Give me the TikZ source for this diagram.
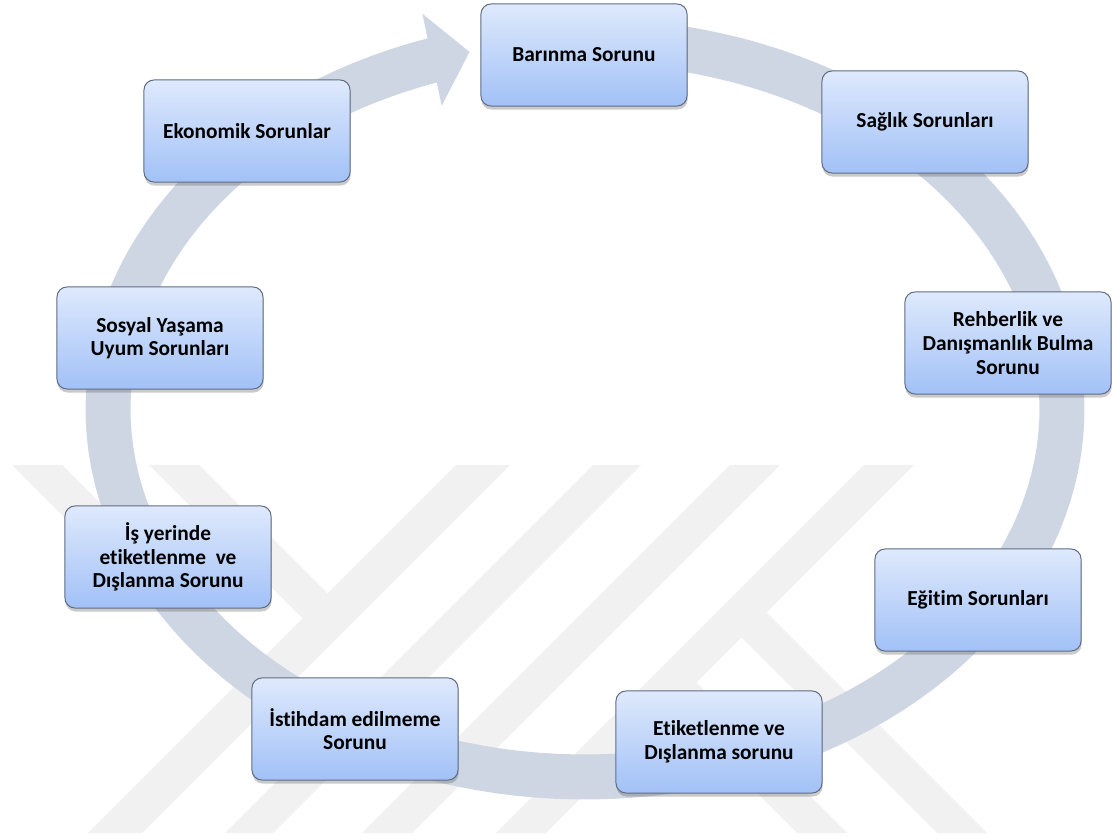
\documentclass[tikz,border=0pt]{standalone}
\usepackage{fontspec}
\setmainfont{Carlito}[Ligatures=NoCommon]
\usepackage{tikz}
\usetikzlibrary{
    arrows.meta, positioning, shadows
}
\definecolor{colRing}{RGB}{207, 214, 227}
\definecolor{colTop}{RGB}{222, 233, 252}
\definecolor{colBottom}{RGB}{162, 193, 247}
\definecolor{colEdge}{RGB}{96, 108, 128}
\definecolor{colMark}{RGB}{241, 241, 241}

\begin{document}
\begin{tikzpicture}[x=0.025cm, y=-0.025cm,
    probbox/.style={draw=colEdge, line width=0.7pt, rounded corners=0.25cm,
        top color=colTop, bottom color=colBottom,
        minimum width=5.15cm, minimum height=2.55cm, inner sep=2pt, align=center,
        font=\fontsize{15.2}{16.8}\selectfont\bfseries,
        drop shadow={shadow xshift=0.4pt, shadow yshift=-2.5pt, opacity=0.35, fill=black!60}},
    wmark/.style={fill=colMark, draw=none}]
    \useasboundingbox (0,0) rectangle (1112,839);

    % --- Watermark (background) ---
    \fill[wmark] (12,465) -- (62,465) -- (259,662) -- (234,687) -- cycle;
    \fill[wmark] (149,465) -- (199,465) -- (327.5,593.5) -- (302.5,618.5) -- cycle;
    \fill[wmark] (456,465) -- (510,465) -- (142,833) -- (88,833) -- cycle;
    \fill[wmark] (593,465) -- (641,465) -- (273,833) -- (225,833) -- cycle;
    \fill[wmark] (730,465) -- (780,465) -- (412,833) -- (362,833) -- cycle;
    \fill[wmark] (864,465) -- (914,465) -- (546,833) -- (496,833) -- cycle;
    \fill[wmark] (766.5,612.5) -- (987,833) -- (937,833) -- (741.5,637.5) -- cycle;
    \fill[wmark] (696.5,682.5) -- (847,833) -- (797,833) -- (671.5,707.5) -- cycle;

    % --- Cycle ring with arrow head ---
    \draw[colRing, line width=1.125cm, -{Triangle[width=2.3cm, length=0.96cm]}]
        plot[domain=-85:256, samples=150] ({585+477*cos(\x)}, {409+368*sin(\x)});

    % --- Problem boxes ---
    \node[probbox] (barinma) at (584,55) {Barınma Sorunu};
    \node[probbox] (saglik) at (925,122) {Sağlık Sorunları};
    \node[probbox] (rehber) at (1008,343) {Rehberlik ve\\Danışmanlık Bulma\\Sorunu};
    \node[probbox] (egitim) at (978,600) {Eğitim Sorunları};
    \node[probbox] (etiket) at (719,742) {Etiketlenme ve\\Dışlanma sorunu};
    \node[probbox] (istihdam) at (355,729) {İstihdam edilmeme\\Sorunu};
    \node[probbox] (isyeri) at (168,557) {İş yerinde\\etiketlenme\ \ ve\\Dışlanma Sorunu};
    \node[probbox] (sosyal) at (160,338) {Sosyal Yaşama\\Uyum Sorunları};
    \node[probbox] (ekonomik) at (247,131) {Ekonomik Sorunlar};

\end{tikzpicture}
\end{document}
